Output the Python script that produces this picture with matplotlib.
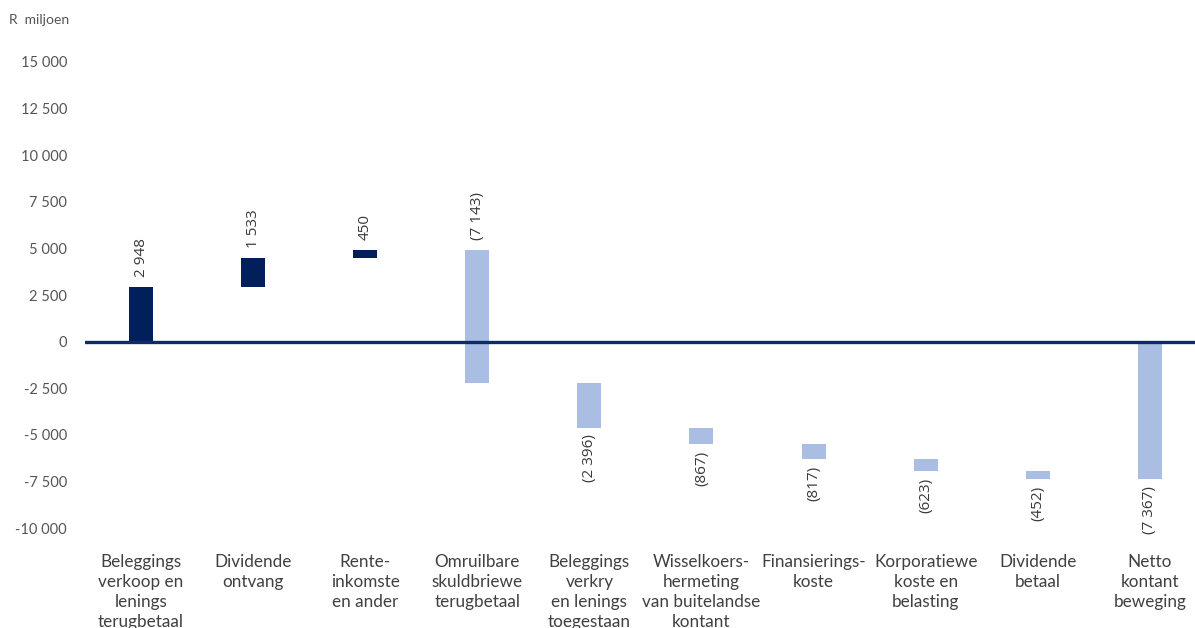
import numpy as np
import matplotlib.pyplot as plt

categories = ['Beleggings\nverkoop en\nlenings\nterugbetaal', 'Dividende\nontvang', 'Rente-\ninkomste\nen ander',
              'Omruilbare\nskuldbriewe\nterugbetaal', 'Beleggings\nverkry\nen lenings\ntoegestaan',
              'Wisselkoers-\nhermeting\nvan buitelandse\nkontant', 'Finansierings-\nkoste',
              'Korporatiewe\nkoste en\nbelasting', 'Dividende\nbetaal', 'Netto\nkontant\nbeweging']
changes = [2948, 1533, 450, -7143, -2396, -867, -817, -623, -452]
total = -7367
labels = ['2 948', '1 533', '450', '(7 143)', '(2 396)', '(867)', '(817)', '(623)', '(452)', '(7 367)']

dark = '#001F5B'
light = '#A9BEE2'

# waterfall starts/ends
starts = []
ends = []
run = 0
for c in changes:
    starts.append(run)
    run += c
    ends.append(run)
starts.append(0)
ends.append(total)
starts = np.array(starts)
ends = np.array(ends)
x = np.arange(len(categories))
colors = [dark if e > s else light for s, e in zip(starts, ends)]

fig = plt.figure(figsize=(11.95, 6.28), dpi=100)
# axes runs a little past the right edge, like the source
ax = fig.add_axes([0.0711, 0.1592, 0.938, 0.7421])

ax.bar(x, ends - starts, bottom=starts, width=0.214, color=colors, zorder=2)
ax.axhline(0, color='#0E2B64', lw=2.4, zorder=3)

for i in range(len(x)):
    top = max(starts[i], ends[i])
    bot = min(starts[i], ends[i])
    if top > 0:
        ax.annotate(labels[i], (x[i], top), xytext=(0, 7), textcoords='offset points',
                    rotation=90, ha='center', va='bottom', fontsize=11, color='#3a3a3a',
                    family='Open Sans')
    else:
        ax.annotate(labels[i], (x[i], bot), xytext=(0, -5), textcoords='offset points',
                    rotation=90, ha='center', va='top', fontsize=11, color='#3a3a3a',
                    family='Open Sans')

ax.set_xlim(-0.5, 9.5)
ax.set_ylim(-10000, 15000)
ax.set_yticks(np.arange(-10000, 15001, 2500))
ax.set_yticklabels([f'{v:,}'.replace(',', ' ') for v in np.arange(-10000, 15001, 2500)],
                   family='Lato', fontsize=10.5, color='#555555')
ax.set_xticks(x)
ax.set_xticklabels(categories, family='Lato', fontsize=12.3, color='#404040', linespacing=1.3, va='top')
ax.tick_params(axis='y', length=0, pad=13)
ax.tick_params(axis='x', length=0, pad=19)
for s in ax.spines.values():
    s.set_visible(False)

fig.text(0.0075, 0.968, 'R  miljoen', family='Lato', fontsize=10, color='#555555', va='center')

fig.savefig('out.png', dpi=100)
